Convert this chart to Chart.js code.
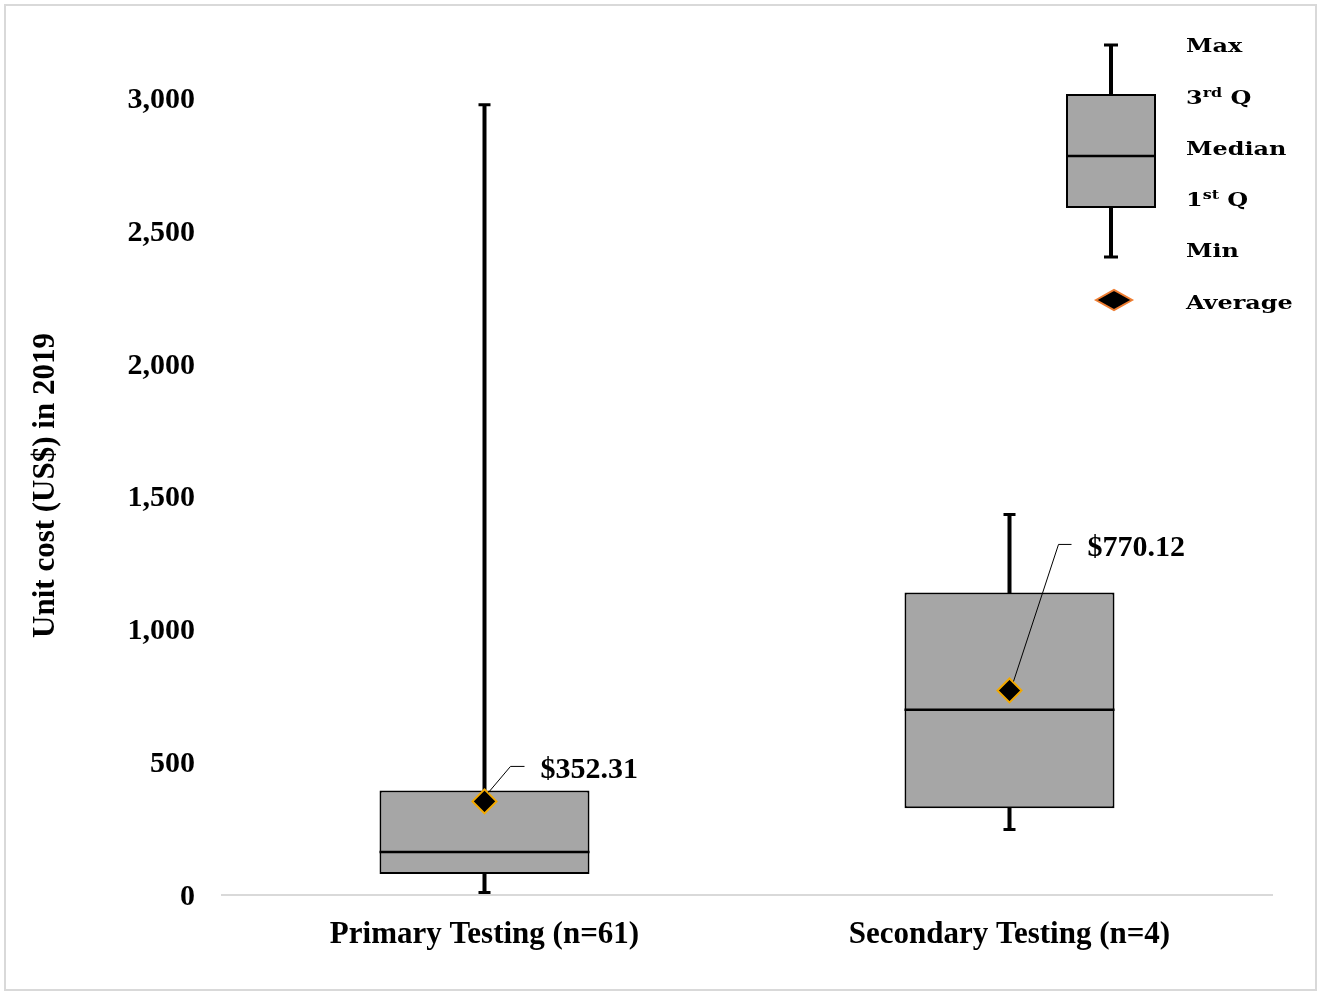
<!DOCTYPE html>
<html>
<head>
<meta charset="utf-8">
<title>Unit cost box plot</title>
<script src="https://cdn.jsdelivr.net/npm/chart.js@4/dist/chart.umd.min.js"></script>
<style>
  html, body { margin: 0; padding: 0; background: #fff; }
  #wrap { position: relative; width: 1320px; height: 994px; }
  canvas { display: block; }
</style>
</head>
<body>
<div id="wrap"><canvas id="chart" width="1320" height="994"></canvas></div>
<script>
// Box-plot statistics per testing type (US$, 2019)
const categories   = ['Primary Testing (n=61)', 'Secondary Testing (n=4)'];
const minValues    = [8, 245];
const q1Values     = [79, 327];
const medianValues = [162, 697];
const q3Values     = [393, 1139];
const maxValues    = [2977, 1434];
const meanValues   = [352.31, 770.12];
const yTicks       = [0, 500, 1000, 1500, 2000, 2500, 3000];

// Styling
const SERIF = "'Liberation Serif', 'Times New Roman', serif";
const LEGEND_FONT = "'DejaVu Serif', serif";
const BOX_FILL = '#a6a6a6';
const MEAN_EDGE = '#f2a900';
// Offsets (px) of each mean callout's leader end from its marker
const calloutOffsets = [{ dx: 40, dy: -35, kx: 26 }, { dx: 62, dy: -146, kx: 49 }];

const boxPlotPlugin = {
  id: 'boxPlot',
  beforeDraw(chart) {
    const ctx = chart.ctx;
    ctx.save();
    ctx.strokeStyle = '#d9d9d9';
    ctx.lineWidth = 2;
    ctx.strokeRect(5, 5, 1311, 985);
    ctx.restore();
  },
  afterDatasetDraw(chart, args) {
    if (args.index !== 0) return;
    const ctx = chart.ctx;
    const y = chart.scales.y;
    const meta = chart.getDatasetMeta(0);
    ctx.save();
    meta.data.forEach((bar, i) => {
      const x = bar.x;
      const half = bar.width / 2;
      const yMin = y.getPixelForValue(minValues[i]);
      const yQ1 = y.getPixelForValue(q1Values[i]);
      const yMed = y.getPixelForValue(medianValues[i]);
      const yQ3 = y.getPixelForValue(q3Values[i]);
      const yMax = y.getPixelForValue(maxValues[i]);
      ctx.strokeStyle = '#000';
      // whiskers
      ctx.lineWidth = 4;
      ctx.beginPath();
      ctx.moveTo(x, yQ3 + 1); ctx.lineTo(x, yMax);
      ctx.moveTo(x, yQ1 - 1); ctx.lineTo(x, yMin);
      ctx.stroke();
      // caps
      ctx.lineWidth = 3;
      ctx.beginPath();
      ctx.moveTo(x - 6, yMax + 0.5); ctx.lineTo(x + 6, yMax + 0.5);
      ctx.moveTo(x - 6, yMin - 0.5); ctx.lineTo(x + 6, yMin - 0.5);
      ctx.stroke();
      // median
      ctx.lineWidth = 2.5;
      ctx.beginPath();
      ctx.moveTo(x - half, yMed); ctx.lineTo(x + half, yMed);
      ctx.stroke();
    });
    ctx.restore();
  },
  afterDatasetsDraw(chart) {
    const ctx = chart.ctx;
    const meta = chart.getDatasetMeta(1);
    ctx.save();
    meta.data.forEach((pt, i) => {
      const o = calloutOffsets[i];
      const ex = pt.x + o.dx, ey = pt.y + o.dy;
      ctx.strokeStyle = '#000';
      ctx.lineWidth = 1;
      ctx.beginPath();
      ctx.moveTo(pt.x + 4, pt.y - 9);
      ctx.lineTo(pt.x + o.kx, ey);
      ctx.lineTo(ex, ey);
      ctx.stroke();
      ctx.fillStyle = '#000';
      ctx.font = 'bold 30px ' + SERIF;
      ctx.textAlign = 'left';
      ctx.textBaseline = 'middle';
      ctx.fillText('$' + meanValues[i].toFixed(2), ex + 16, ey + 4);
    });
    ctx.restore();
  },
  afterDraw(chart) {
    // key explaining the box-plot glyph
    const ctx = chart.ctx;
    ctx.save();
    const wx = 1111;
    ctx.strokeStyle = '#000';
    ctx.lineWidth = 4;
    ctx.beginPath();
    ctx.moveTo(wx, 44); ctx.lineTo(wx, 95);
    ctx.moveTo(wx, 207); ctx.lineTo(wx, 258);
    ctx.stroke();
    ctx.lineWidth = 3;
    ctx.beginPath();
    ctx.moveTo(wx - 7, 45); ctx.lineTo(wx + 7, 45);
    ctx.moveTo(wx - 7, 257); ctx.lineTo(wx + 7, 257);
    ctx.stroke();
    ctx.fillStyle = BOX_FILL;
    ctx.fillRect(1067, 95, 88, 112);
    ctx.lineWidth = 2;
    ctx.strokeRect(1067, 95, 88, 112);
    ctx.lineWidth = 2.5;
    ctx.beginPath();
    ctx.moveTo(1067, 156); ctx.lineTo(1155, 156);
    ctx.stroke();
    // mean marker
    ctx.beginPath();
    ctx.moveTo(1096, 300); ctx.lineTo(1114, 290); ctx.lineTo(1132, 300); ctx.lineTo(1114, 310);
    ctx.closePath();
    ctx.fillStyle = '#000';
    ctx.fill();
    ctx.strokeStyle = '#ee7d31';
    ctx.lineWidth = 2;
    ctx.stroke();

    const drawLabel = (parts, x, y) => {
      ctx.save();
      ctx.translate(x, y);
      ctx.scale(1.33, 1);
      let cx = 0;
      ctx.fillStyle = '#000';
      ctx.textAlign = 'left';
      ctx.textBaseline = 'middle';
      parts.forEach(p => {
        ctx.font = (p.sup ? 'bold 12px ' : 'bold 18px ') + LEGEND_FONT;
        ctx.fillText(p.t, cx, p.sup ? -5 : 0);
        cx += ctx.measureText(p.t).width;
      });
      ctx.restore();
    };
    drawLabel([{ t: 'Max' }], 1186, 47);
    drawLabel([{ t: '3' }, { t: 'rd', sup: true }, { t: ' Q' }], 1186, 99);
    drawLabel([{ t: 'Median' }], 1186, 150);
    drawLabel([{ t: '1' }, { t: 'st', sup: true }, { t: ' Q' }], 1186, 201);
    drawLabel([{ t: 'Min' }], 1186, 252);
    drawLabel([{ t: 'Average' }], 1186, 304);
    ctx.restore();
  }
};

new Chart(document.getElementById('chart'), {
  data: {
    labels: categories,
    datasets: [
      {
        type: 'bar',
        label: 'Interquartile range',
        data: categories.map((c, i) => [q1Values[i], q3Values[i]]),
        backgroundColor: BOX_FILL,
        borderColor: '#000',
        borderWidth: 2,
        borderSkipped: false,
        barPercentage: 0.4,
        categoryPercentage: 1,
        order: 2
      },
      {
        type: 'line',
        label: 'Average',
        data: meanValues,
        showLine: false,
        pointStyle: 'rectRot',
        pointRadius: 12,
        pointBackgroundColor: '#000',
        pointBorderColor: MEAN_EDGE,
        pointBorderWidth: 2,
        order: 1
      }
    ]
  },
  options: {
    responsive: false,
    animation: false,
    devicePixelRatio: 1,
    layout: { padding: { top: 45, right: 48, bottom: 0, left: 0 } },
    plugins: { legend: { display: false }, tooltip: { enabled: false } },
    scales: {
      x: {
        grid: { display: false, drawTicks: false },
        border: { display: true, color: '#d9d9d9', width: 2 },
        ticks: { color: '#000', font: { family: SERIF, size: 31, weight: 'bold' }, padding: 21 },
        afterFit: s => { s.height = 99; }
      },
      y: {
        min: 0,
        max: 3200,
        afterBuildTicks: s => { s.ticks = yTicks.map(v => ({ value: v })); },
        grid: { display: false, drawTicks: false },
        border: { display: false },
        ticks: {
          color: '#000',
          font: { family: SERIF, size: 30, weight: 'bold' },
          padding: 27,
          labelOffset: 2,
          callback: v => v.toLocaleString('en-US')
        },
        title: {
          display: true,
          text: 'Unit cost (US$) in 2019    ',
          color: '#000',
          font: { family: SERIF, size: 31, weight: 'bold' },
          padding: { top: 27, bottom: 0 }
        },
        afterFit: s => { s.width = 222; }
      }
    }
  },
  plugins: [boxPlotPlugin]
});
</script>
</body>
</html>
